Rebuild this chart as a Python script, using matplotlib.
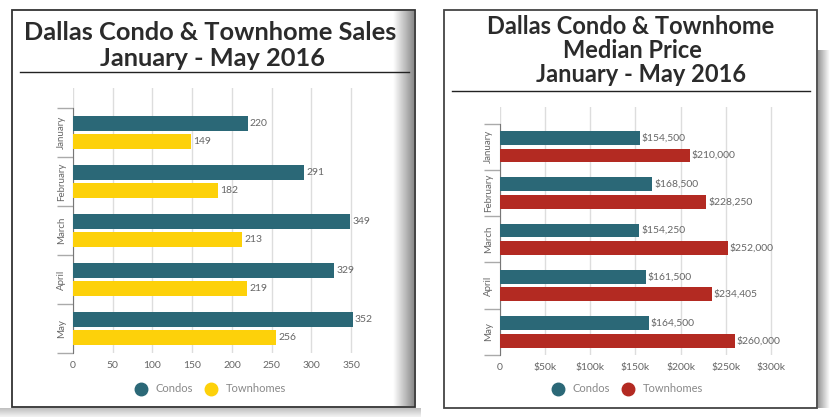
import numpy as np
import matplotlib.pyplot as plt
from matplotlib.lines import Line2D
from matplotlib.patches import Rectangle

W, H = 830, 417

months = ["January", "February", "March", "April", "May"]
condo_sales = [220, 291, 349, 329, 352]
town_sales = [149, 182, 213, 219, 256]
condo_price = [154500, 168500, 154250, 161500, 164500]
town_price = [210000, 228250, 252000, 234405, 260000]

sales_ticks = [0, 50, 100, 150, 200, 250, 300, 350]
price_ticks = [0, 50000, 100000, 150000, 200000, 250000, 300000]
price_tick_labels = ["0", "$50k", "$100k", "$150k", "$200k", "$250k", "$300k"]

TEAL = "#2b6877"
YELLOW = "#fdd10a"
RED = "#b32a22"
TXT = "#666666"
TITLE = "#2b2b2b"
LABEL_FONT = ["Lato", "DejaVu Sans"]
TITLE_FONT = ["Lato", "DejaVu Sans"]


def px_rect(x0, y0, x1, y1):
    """pixel box (top-left origin) -> figure fraction rect"""
    return [x0 / W, 1 - y1 / H, (x1 - x0) / W, (y1 - y0) / H]


fig = plt.figure(figsize=(W / 100, H / 100), dpi=100)

# background layer for frames, shadows and title rules
bg = fig.add_axes([0, 0, 1, 1], zorder=-5)
bg.set_xlim(0, W)
bg.set_ylim(H, 0)
bg.axis("off")

grad = np.linspace(1, 0.55, 40).reshape(1, -1)
bg.imshow(np.repeat(grad, 2, axis=0), cmap="gray", vmin=0, vmax=1,
          extent=(393, 414, 406, 11), aspect="auto", zorder=1)
bg.imshow(np.repeat(np.linspace(0.75, 0.95, 20).reshape(-1, 1), 2, axis=1),
          cmap="gray", vmin=0, vmax=1, extent=(0, 420, 417, 408), aspect="auto", zorder=1)
bg.imshow(np.repeat(np.linspace(0.6, 1, 30).reshape(1, -1), 2, axis=0),
          cmap="gray", vmin=0, vmax=1, extent=(818, 830, 408, 50), aspect="auto", zorder=1)
bg.add_patch(Rectangle((12, 10), 403, 397, fill=False, ec="#333333", lw=1.3, zorder=2))
bg.add_patch(Rectangle((444, 10), 373, 398, fill=False, ec="#444444", lw=1.3, zorder=2))
bg.plot([20, 409], [72, 72], color="#222222", lw=1)
bg.plot([452, 810], [91, 91], color="#222222", lw=1)

fig.text(210 / W, 1 - 33 / H, "Dallas Condo & Townhome Sales", ha="center", va="center",
         fontsize=18.3, fontweight="bold", color=TITLE, family=TITLE_FONT)
fig.text(212 / W, 1 - 58 / H, "January - May 2016", ha="center", va="center",
         fontsize=18.3, fontweight="bold", color=TITLE, family=TITLE_FONT)
fig.text(631 / W, 1 - 26 / H, "Dallas Condo & Townhome", ha="center", va="center",
         fontsize=17, fontweight="bold", color=TITLE, family=TITLE_FONT)
fig.text(632 / W, 1 - 50 / H, "Median Price", ha="center", va="center",
         fontsize=17, fontweight="bold", color=TITLE, family=TITLE_FONT)
fig.text(641 / W, 1 - 75 / H, "January - May 2016", ha="center", va="center",
         fontsize=17, fontweight="bold", color=TITLE, family=TITLE_FONT)


def bar_panel(rect, top_extra, xmax, v1, v2, c2, ticks, tick_labels, fmt, legend_x):
    ax = fig.add_axes(rect)
    y = np.arange(len(months))
    h = 0.3
    b1 = ax.barh(y - 0.19, v1, height=h, color=TEAL, zorder=3)
    b2 = ax.barh(y + 0.19, v2, height=h, color=c2, zorder=3)
    ax.bar_label(b1, labels=[fmt(v) for v in v1], padding=1.5, fontsize=7.5,
                 color=TXT, family=LABEL_FONT)
    ax.bar_label(b2, labels=[fmt(v) for v in v2], padding=1.5, fontsize=7.5,
                 color=TXT, family=LABEL_FONT)
    ax.set_xlim(0, xmax)
    ax.set_ylim(len(months) - 0.5, -0.5 - top_extra)
    ax.set_xticks(ticks)
    ax.set_xticklabels(tick_labels, fontsize=7.5, color=TXT, family=LABEL_FONT)
    ax.tick_params(axis="x", length=0, pad=6)
    ax.set_yticks(y)
    ax.set_yticklabels(months, rotation=90, va="center", fontsize=7, color=TXT,
                       family=LABEL_FONT)
    ax.tick_params(axis="y", which="major", length=0, pad=5)
    ax.set_yticks(np.arange(len(months) + 1) - 0.5, minor=True)
    ax.tick_params(axis="y", which="minor", length=11.5, color="#aaaaaa", width=1)
    ax.grid(axis="x", color="#dddddd", lw=1, zorder=0)
    for s in ["top", "right", "bottom"]:
        ax.spines[s].set_visible(False)
    ax.spines["left"].set_color("#777777")
    ax.spines["left"].set_bounds(len(months) - 0.5, -0.5)
    ax.set_facecolor("none")
    handles = [Line2D([], [], marker="o", ls="", ms=9, color=TEAL),
               Line2D([], [], marker="o", ls="", ms=9, color=c2)]
    fig.legend(handles, ["Condos", "Townhomes"], loc="center",
               bbox_to_anchor=(legend_x / W, 1 - 389 / H), ncol=2, frameon=False,
               handletextpad=0.3, columnspacing=0.6, labelcolor="#888888",
               prop={"family": LABEL_FONT, "size": 8})
    return ax


bar_panel(px_rect(73, 88, 359, 353), 20 / 49, 360, condo_sales, town_sales, YELLOW,
          sales_ticks, [str(t) for t in sales_ticks], lambda v: f"{v}", 208)
bar_panel(px_rect(500, 107, 780, 355), 16.5 / 46.3, 310000, condo_price, town_price, RED,
          price_ticks, price_tick_labels, lambda v: f"${v:,}", 625)

fig.savefig("out.png", dpi=100)
